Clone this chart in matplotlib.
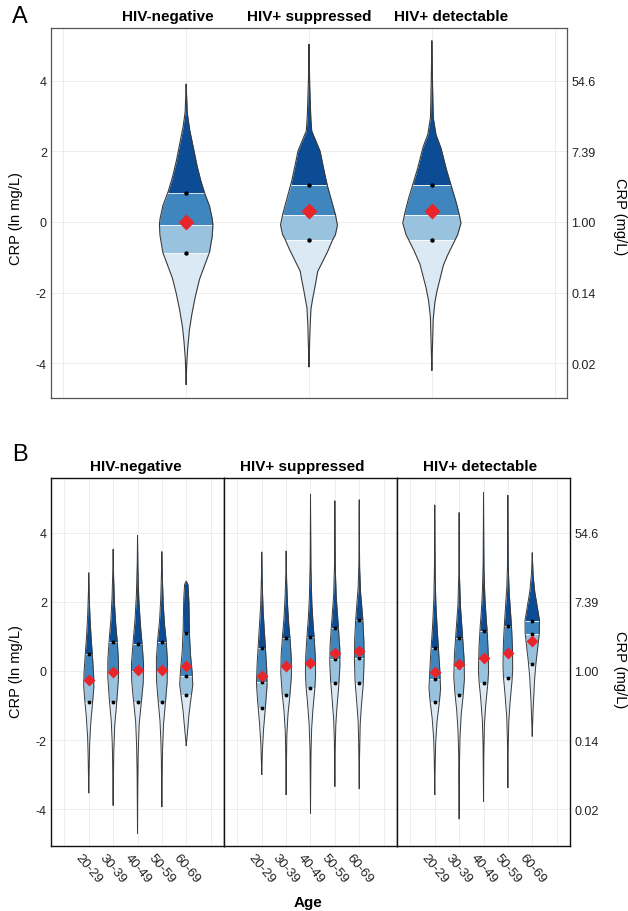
import numpy as np
import matplotlib
matplotlib.use("Agg")
import matplotlib.pyplot as plt

plt.rcParams['font.family'] = ['Liberation Sans', 'DejaVu Sans']

groups = ["HIV-negative", "HIV+ suppressed", "HIV+ detectable"]
age_groups = ["20-29", "30-39", "40-49", "50-59", "60-69"]
left_ticks = [-4, -2, 0, 2, 4]
left_labels = ["-4", "-2", "0", "2", "4"]
right_labels = ["0.02", "0.14", "1.00", "7.39", "54.6"]

# ---------------- Panel A data (ln CRP) ----------------
A_prof_y = [
    [3.91, 3.11, 2.64, 2.16, 1.69, 1.22, 0.82, 0.46, 0.085, -0.08, -0.39, -0.86, -1.24, -1.62, -2.09, -2.56, -3.04, -3.51, -3.98, -4.6],
    [5.04, 3.9, 2.96, 2.58, 2.29, 2.01, 1.54, 1.06, 0.59, 0.21, -0.08, -0.36, -0.5, -0.83, -1.21, -1.40, -1.69, -2.07, -2.45, -3.01, -4.10],
    [5.14, 3.9, 2.96, 2.48, 2.1, 1.54, 1.06, 0.59, 0.21, -0.03, -0.36, -0.5, -0.83, -1.21, -1.5, -1.88, -2.26, -2.73, -4.2],
]
A_prof_w = [
    [0, 0.008, 0.027, 0.055, 0.082, 0.115, 0.15, 0.19, 0.213, 0.218, 0.213, 0.19, 0.15, 0.109, 0.076, 0.049, 0.027, 0.014, 0.005, 0],
    [0, 0.005, 0.014, 0.022, 0.057, 0.09, 0.117, 0.147, 0.185, 0.215, 0.232, 0.215, 0.193, 0.153, 0.098, 0.071, 0.057, 0.035, 0.016, 0.008, 0],
    [0, 0.005, 0.011, 0.033, 0.074, 0.114, 0.155, 0.196, 0.223, 0.237, 0.21, 0.19, 0.142, 0.095, 0.074, 0.046, 0.025, 0.011, 0],
]
A_q1 = [-0.88, -0.50, -0.50]
A_med = [-0.08, 0.21, 0.21]
A_q3 = [0.81, 1.06, 1.06]
A_mean = [0.0, 0.30, 0.30]

# ---------------- Panel B data (ln CRP by age) ----------------
B_prof_y = [
    [  # HIV-negative
        [2.84, 2.2, 1.5, 0.9, 0.45, -0.1, -0.45, -0.9, -1.4, -2.0, -2.8, -3.52],
        [3.52, 2.8, 2.0, 1.4, 0.85, 0.3, -0.2, -0.9, -1.5, -2.2, -3.0, -3.88],
        [3.92, 3.0, 2.1, 1.4, 0.77, 0.2, -0.3, -0.9, -1.5, -2.3, -3.2, -4.70],
        [3.45, 2.8, 2.0, 1.4, 0.85, 0.3, -0.3, -0.9, -1.5, -2.2, -3.0, -3.92],
        [2.6, 2.5, 2.0, 1.5, 1.1, 0.5, 0.0, -0.4, -0.7, -1.2, -1.8, -2.15],
    ],
    [  # HIV+ suppressed
        [3.44, 2.6, 1.8, 1.2, 0.67, 0.1, -0.4, -1.06, -1.6, -2.2, -2.99],
        [3.47, 2.7, 2.0, 1.4, 0.94, 0.4, -0.1, -0.68, -1.2, -1.8, -2.6, -3.57],
        [5.11, 4.0, 3.0, 2.0, 1.4, 0.97, 0.4, -0.1, -0.5, -1.0, -1.6, -2.3, -3.2, -4.12],
        [4.92, 4.0, 3.0, 2.2, 1.7, 1.24, 0.7, 0.2, -0.34, -0.9, -1.5, -2.2, -3.33],
        [4.95, 4.0, 3.0, 2.3, 1.9, 1.46, 0.9, 0.3, -0.34, -0.9, -1.5, -2.3, -3.4],
    ],
    [  # HIV+ detectable
        [4.8, 3.8, 2.8, 2.0, 1.3, 0.67, 0.1, -0.5, -0.9, -1.4, -2.0, -2.7, -3.57],
        [4.58, 3.6, 2.7, 1.9, 1.4, 0.94, 0.4, -0.2, -0.68, -1.2, -1.8, -2.6, -4.27],
        [5.16, 4.0, 3.0, 2.2, 1.6, 1.16, 0.6, 0.0, -0.34, -0.9, -1.5, -2.3, -3.76],
        [5.08, 4.0, 3.0, 2.3, 1.8, 1.29, 0.7, 0.1, -0.21, -0.8, -1.4, -2.2, -3.37],
        [3.42, 2.8, 2.3, 1.8, 1.45, 1.08, 0.63, 0.21, -0.2, -0.6, -1.1, -1.88],
    ],
]
B_prof_w = [
    [
        [0, 0.015, 0.05, 0.10, 0.15, 0.20, 0.21, 0.16, 0.09, 0.04, 0.015, 0],
        [0, 0.015, 0.05, 0.10, 0.17, 0.22, 0.22, 0.15, 0.07, 0.03, 0.012, 0],
        [0, 0.012, 0.05, 0.11, 0.19, 0.25, 0.24, 0.16, 0.07, 0.03, 0.01, 0],
        [0, 0.015, 0.05, 0.10, 0.18, 0.23, 0.22, 0.15, 0.07, 0.03, 0.012, 0],
        [0, 0.07, 0.11, 0.12, 0.13, 0.17, 0.24, 0.27, 0.21, 0.12, 0.05, 0],
    ],
    [
        [0, 0.015, 0.05, 0.10, 0.15, 0.20, 0.22, 0.15, 0.08, 0.03, 0],
        [0, 0.015, 0.05, 0.10, 0.16, 0.21, 0.22, 0.16, 0.08, 0.03, 0.012, 0],
        [0, 0.006, 0.015, 0.05, 0.10, 0.15, 0.20, 0.21, 0.18, 0.11, 0.05, 0.02, 0.008, 0],
        [0, 0.006, 0.015, 0.05, 0.10, 0.15, 0.20, 0.21, 0.17, 0.10, 0.04, 0.015, 0],
        [0, 0.006, 0.015, 0.05, 0.10, 0.15, 0.19, 0.20, 0.17, 0.10, 0.04, 0.015, 0],
    ],
    [
        [0, 0.006, 0.015, 0.04, 0.09, 0.15, 0.20, 0.24, 0.19, 0.10, 0.04, 0.015, 0],
        [0, 0.006, 0.015, 0.05, 0.10, 0.15, 0.20, 0.22, 0.17, 0.09, 0.04, 0.012, 0],
        [0, 0.006, 0.015, 0.05, 0.10, 0.15, 0.19, 0.21, 0.18, 0.10, 0.04, 0.012, 0],
        [0, 0.006, 0.015, 0.05, 0.10, 0.15, 0.19, 0.20, 0.18, 0.10, 0.04, 0.012, 0],
        [0, 0.03, 0.10, 0.22, 0.30, 0.29, 0.22, 0.15, 0.10, 0.07, 0.035, 0],
    ],
]
B_q1 = [[-0.90, -0.90, -0.90, -0.90, -0.69],
        [-1.06, -0.68, -0.50, -0.34, -0.34],
        [-0.90, -0.68, -0.34, -0.21, 0.21]]
B_med = [[-0.25, -0.05, 0.0, 0.0, -0.15],
         [-0.31, 0.12, 0.22, 0.34, 0.39],
         [-0.24, 0.12, 0.33, 0.45, 1.08]]
B_q3 = [[0.48, 0.85, 0.77, 0.85, 1.11],
        [0.67, 0.94, 0.97, 1.24, 1.46],
        [0.67, 0.94, 1.16, 1.29, 1.45]]
B_mean = [[-0.26, -0.02, 0.02, 0.02, 0.13],
          [-0.14, 0.14, 0.22, 0.51, 0.58],
          [-0.04, 0.20, 0.39, 0.51, 0.87]]

# ---------------- styling ----------------
C_TOP = "#0b4c95"
C_Q3 = "#3f86be"
C_Q2 = "#99c2de"
C_Q1 = "#dbe9f5"
GRID = "#ebebeb"


def draw_violin(ax, x, ys, ws, q1, med, q3, mean, ms_d, ms_p, lw):
    ys = np.asarray(ys, float)
    ws = np.asarray(ws, float)
    order = np.argsort(ys)
    ys, ws = ys[order], ws[order]
    yy = np.linspace(ys[0], ys[-1], 600)
    yy = np.unique(np.concatenate([yy, ys, [q1, med, q3]]))
    ww = np.interp(yy, ys, ws)
    bands = [(ys[0], q1, C_Q1), (q1, med, C_Q2), (med, q3, C_Q3), (q3, ys[-1], C_TOP)]
    for lo, hi, c in bands:
        m = (yy >= lo) & (yy <= hi)
        ax.fill_betweenx(yy[m], x - ww[m], x + ww[m], color=c, lw=0, zorder=2)
    for q in (q1, med, q3):
        w = np.interp(q, ys, ws)
        ax.plot([x - w, x + w], [q, q], color="white", lw=0.7, alpha=0.85, zorder=3)
    ax.plot(np.concatenate([x - ww, (x + ww)[::-1]]),
            np.concatenate([yy, yy[::-1]]), color="#3a3a3a", lw=lw, zorder=4)
    ax.plot([x, x, x], [q1, med, q3], "o", color="black", ms=ms_p, mec="none", zorder=5)
    ax.plot([x], [mean], "D", color="#e8262a", ms=ms_d, mec="none", zorder=6)


def style_axes(ax, xgrid, frame_color, frame_lw):
    ax.set_ylim(-5.05, 5.55)
    for g in xgrid:
        ax.axvline(g, color=GRID, lw=0.6, zorder=0)
    for g in left_ticks:
        ax.axhline(g, color=GRID, lw=0.6, zorder=0)
    for s in ax.spines.values():
        s.set_color(frame_color)
        s.set_linewidth(frame_lw)
    ax.tick_params(length=0, labelsize=9, pad=3, colors="#222222")
    ax.set_yticks(left_ticks)


W, H = 628, 912
fig = plt.figure(figsize=(W / 100, H / 100), dpi=100)

# ---------------- Panel A ----------------
axA = fig.add_axes([51 / W, 1 - 399 / H, 516 / W, 370 / H])
style_axes(axA, [0, 1, 2, 3, 4], "#555555", 0.9)
axA.set_xlim(-0.1, 4.1)
axA.set_ylim(-4.99, 5.5)
axA.set_xticks([])
axA.set_yticklabels(left_labels)
for i in range(3):
    draw_violin(axA, i + 1, A_prof_y[i], A_prof_w[i], A_q1[i], A_med[i], A_q3[i],
                A_mean[i], ms_d=8.0, ms_p=3.2, lw=0.8)
axA2 = axA.twinx()
axA2.set_ylim(axA.get_ylim())
axA2.set_yticks(left_ticks)
axA2.set_yticklabels(right_labels)
axA2.tick_params(length=0, labelsize=9, pad=3, colors="#222222")
for s in axA2.spines.values():
    s.set_visible(False)

for t, xc in zip(groups, [168, 309, 451]):
    fig.text(xc / W, 1 - 17 / H, t, ha="center", va="center", fontsize=11, fontweight="bold")
fig.text(20 / W, 1 - 17 / H, "A", ha="center", va="center", fontsize=17)
fig.text(16 / W, 1 - 219 / H, "CRP (ln mg/L)", rotation=90, ha="center", va="center", fontsize=10.5)
fig.text(620 / W, 1 - 217 / H, "CRP (mg/L)", rotation=270, ha="center", va="center", fontsize=10.5)

# ---------------- Panel B ----------------
left_px = [51, 224, 397]
b_axes = []
for gi in range(3):
    ax = fig.add_axes([left_px[gi] / W, 1 - 847 / H, 173 / W, 368 / H])
    style_axes(ax, [0, 1, 2, 3, 4, 5, 6], "#111111", 1.0)
    ax.set_xlim(-0.55, 6.55)
    ax.set_ylim(-5.06, 5.58)
    ax.set_xticks(range(1, 6))
    ax.set_xticklabels(age_groups, rotation=-50, ha="center", va="top", fontsize=9.5)
    ax.tick_params(axis="x", pad=4)
    if gi == 0:
        ax.set_yticklabels(left_labels)
    else:
        ax.set_yticklabels([])
    for ai in range(5):
        draw_violin(ax, ai + 1, B_prof_y[gi][ai], B_prof_w[gi][ai], B_q1[gi][ai],
                    B_med[gi][ai], B_q3[gi][ai], B_mean[gi][ai], ms_d=6.0, ms_p=2.8, lw=0.7)
    b_axes.append(ax)

axB2 = b_axes[2].twinx()
axB2.set_ylim(b_axes[2].get_ylim())
axB2.set_yticks(left_ticks)
axB2.set_yticklabels(right_labels)
axB2.tick_params(length=0, labelsize=9, pad=3, colors="#222222")
for s in axB2.spines.values():
    s.set_visible(False)

for t, xc in zip(groups, [136, 302, 480]):
    fig.text(xc / W, 1 - 467 / H, t, ha="center", va="center", fontsize=11, fontweight="bold")
fig.text(20 / W, 1 - 455 / H, "B", ha="center", va="center", fontsize=17)
fig.text(16 / W, 1 - 672 / H, "CRP (ln mg/L)", rotation=90, ha="center", va="center", fontsize=10.5)
fig.text(620 / W, 1 - 670 / H, "CRP (mg/L)", rotation=270, ha="center", va="center", fontsize=10.5)
fig.text(308 / W, 1 - 903 / H, "Age", ha="center", va="center", fontsize=11, fontweight="bold")

fig.savefig("out.png", dpi=100)
